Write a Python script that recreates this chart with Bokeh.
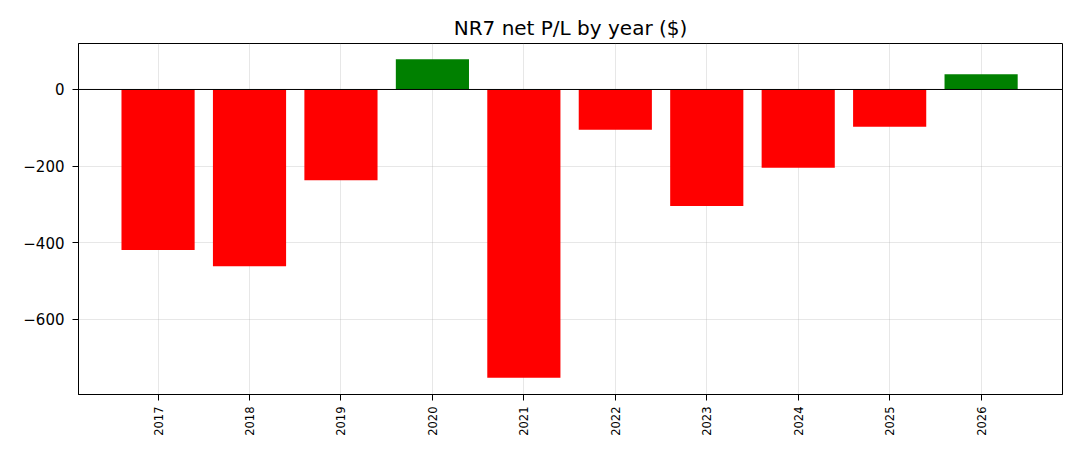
from bokeh.plotting import figure
from bokeh.models import ColumnDataSource, FixedTicker, Span, Range1d
from bokeh.embed import file_html
from bokeh.resources import INLINE

years = ["2017", "2018", "2019", "2020", "2021", "2022", "2023", "2024", "2025", "2026"]
net_pl = [-419, -461, -237, 79, -752, -105, -304, -204, -97, 40]
y_ticks = [-600, -400, -200, 0]
y_tick_labels = ["\u2212600", "\u2212400", "\u2212200", "0"]

xs = list(range(len(years)))
colors = ["#ff0000" if v < 0 else "#008000" for v in net_pl]
src = ColumnDataSource(dict(x=xs, top=net_pl, color=colors))

p = figure(width=1080, height=456, output_backend="svg", toolbar_location=None,
           x_range=Range1d(-0.87, 9.89), y_range=Range1d(-796, 120),
           min_border_left=78, min_border_right=18, min_border_top=43, min_border_bottom=62,
           title="NR7 net P/L by year ($)")
p.title.align = "center"
p.title.text_font = "DejaVu Sans"
p.title.text_font_size = "20px"
p.title.text_font_style = "normal"
p.title.text_color = "black"
p.title.standoff = 8

p.vbar(x="x", top="top", bottom=0, width=0.8, fill_color="color", line_color=None, source=src)
p.add_layout(Span(location=0, dimension="width", line_color="black", line_width=1))

p.outline_line_color = "black"
p.outline_line_width = 1
p.outline_line_alpha = 1

p.xaxis.ticker = FixedTicker(ticks=xs)
p.xaxis.major_label_overrides = {i: y for i, y in zip(xs, years)}
p.xaxis.major_label_orientation = 1.5708
p.xaxis.major_label_text_font_size = "11.5px"
p.xaxis.major_label_standoff = 6
p.yaxis.ticker = FixedTicker(ticks=y_ticks)
p.yaxis.major_label_overrides = {t: l for t, l in zip(y_ticks, y_tick_labels)}
p.yaxis.major_label_text_font_size = "15px"
p.yaxis.major_label_standoff = 8
for ax in (p.xaxis, p.yaxis):
    ax.major_label_text_font = "DejaVu Sans"
    ax.major_label_text_color = "black"
    ax.axis_line_color = "black"
    ax.major_tick_line_color = "black"
    ax.major_tick_in = 0
    ax.major_tick_out = 6
    ax.minor_tick_line_color = None

p.grid.grid_line_color = "#b0b0b0"
p.grid.grid_line_alpha = 0.3
p.xgrid.ticker = FixedTicker(ticks=xs)
p.ygrid.ticker = FixedTicker(ticks=y_ticks)
p.background_fill_color = "white"
p.border_fill_color = "white"

open("out.html", "w").write(file_html(p, INLINE))
